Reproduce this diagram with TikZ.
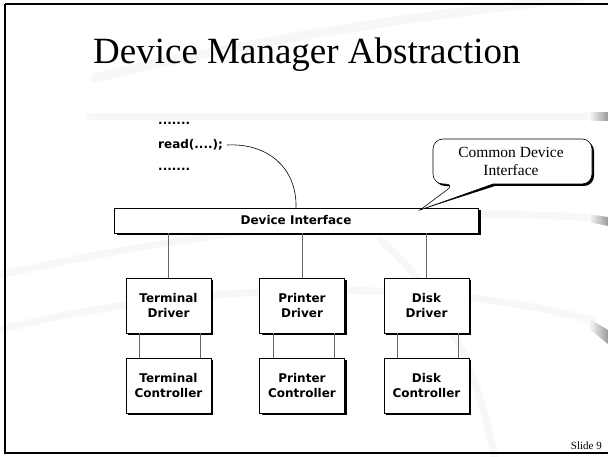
\documentclass[tikz,border=0pt]{standalone}
\usepackage{fontspec}
\setmainfont{Liberation Serif}
\newfontfamily\boxfont{DejaVu Sans}
\usetikzlibrary{shadows}

\tikzset{
  boxshadow/.style={drop shadow={shadow xshift=2pt, shadow yshift=-2pt, fill=black, opacity=1}},
  unit/.style={draw=black, fill=white, line width=0.6pt, minimum width=85pt,
    minimum height=55pt, inner sep=0pt, align=center, boxshadow,
    font=\boxfont\bfseries\fontsize{12}{15}\selectfont},
  bar/.style={draw=black, fill=white, line width=0.6pt, minimum width=364pt,
    minimum height=25pt, inner sep=0pt,
    drop shadow={shadow xshift=2.5pt, shadow yshift=-2.5pt, fill=black, opacity=1},
    font=\boxfont\bfseries\fontsize{12}{14}\selectfont},
  code/.style={anchor=west, inner sep=0pt, font=\boxfont\bfseries\fontsize{12}{14}\selectfont},
  link/.style={draw=black!60, line width=0.6pt},
  swoosh/.style={draw=black!3, line cap=round},
}

\begin{document}
\begin{tikzpicture}[x=1pt, y=-1pt]
  \useasboundingbox (0,0) rectangle (608,457);
  \fill[white] (0,0) rectangle (608,457);

  % faint background swooshes of the slide template
  \draw[swoosh, line width=9pt] (95,78) .. controls (250,40) and (420,15) .. (580,-2);
  \draw[swoosh, line width=7pt] (90,117) -- (592,117);
  \draw[swoosh, line width=7pt] (0,275) .. controls (200,230) and (420,205) .. (592,218);
  \draw[swoosh, line width=7pt] (0,330) .. controls (150,290) and (400,270) .. (592,320);
  \draw[swoosh, line width=7pt] (380,240) .. controls (450,300) and (480,380) .. (495,460);
  \shade[left color=white, right color=black!40] (588,113) rectangle (608,121);
  \shade[left color=white, right color=black!40] (588,214) -- (608,217) -- (608,226) -- (588,222) -- cycle;
  \shade[left color=white, right color=black!40] (588,318) -- (608,330) -- (608,344) -- (588,328) -- cycle;

  % slide frame
  \draw[line width=2pt] (5,4) -- (612,4) (5,4) -- (5,453) -- (612,453);

  % title
  \node[anchor=base west, inner sep=0pt, font=\fontsize{37}{40}\selectfont] (title) at (93,64) {Device Manager Abstraction};

  % calling code
  \node[code] (dots1) at (158,123) {.......};
  \node[code] (rd) at (158,145) {read(....);};
  \node[code] (dots2) at (158,169) {.......};

  % device interface bar
  \node[bar] (di) at (296,220.5) {Device Interface};

  % drivers
  \node[unit] (td) at (168.5,305.5) {Terminal\\Driver};
  \node[unit] (pd) at (302,305.5) {Printer\\Driver};
  \node[unit] (dd) at (426.5,305.5) {Disk\\Driver};

  % controllers
  \node[unit] (tc) at (168.5,385.5) {Terminal\\Controller};
  \node[unit] (pc) at (302,385.5) {Printer\\Controller};
  \node[unit] (dc) at (426.5,385.5) {Disk\\Controller};

  % bar to drivers
  \foreach \d in {td,pd,dd}
    \draw[link] (\d.north |- di.south) -- (\d.north);

  % drivers to controllers
  \foreach \d/\c in {td/tc,pd/pc,dd/dc} {
    \draw[link] ([xshift=-29pt]\d.south) -- ([xshift=-29pt]\c.north);
    \draw[link] ([xshift=32pt]\d.south) -- ([xshift=32pt]\c.north);
  }

  % call from the code into the interface
  \draw[line width=0.6pt] ([xshift=4pt]rd.east) .. controls (268,143) and (297,168) .. (di.north);

  % callout
  \coordinate (tip) at (420,210);
  \fill[black] ([shift={(2,2)}]592,160) [rounded corners=10pt] -- ([shift={(2,2)}]592,139) -- ([shift={(2,2)}]433,139)
    -- ([shift={(2,2)}]433,184) -- ([shift={(2,2)}]455,184) [sharp corners] -- (tip)
    -- ([shift={(2,2)}]493,184) [rounded corners=10pt] -- ([shift={(2,2)}]592,184) -- cycle;
  \draw[fill=white, line width=0.6pt] (592,160) [rounded corners=10pt] -- (592,139) -- (433,139)
    -- (433,184) -- (455,184) [sharp corners] -- (tip)
    -- (493,184) [rounded corners=10pt] -- (592,184) -- cycle;
  \node[align=center, inner sep=0pt, font=\fontsize{15.5}{18}\selectfont] (note) at (511,161) {Common Device\\Interface};

  % slide number
  \node[anchor=base east, inner sep=0pt, font=\fontsize{11}{13}\selectfont] (num) at (602,449) {Slide 9};
\end{tikzpicture}
\end{document}
